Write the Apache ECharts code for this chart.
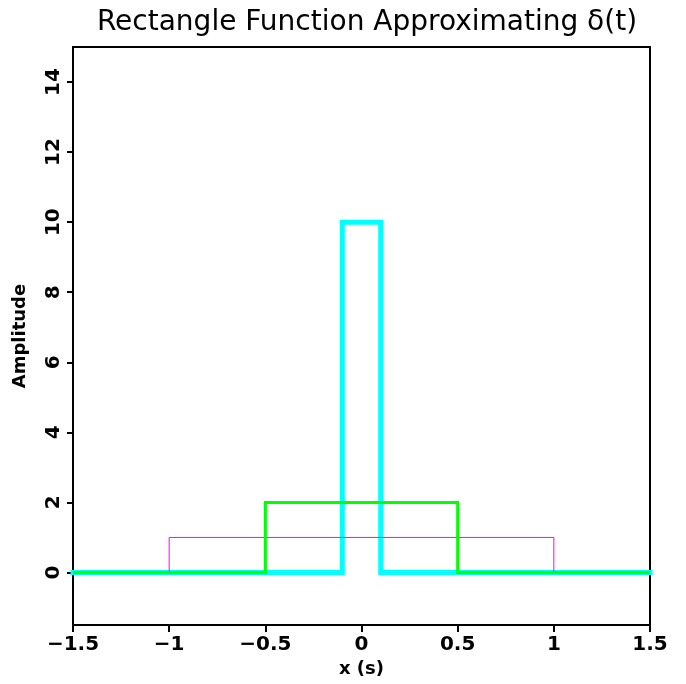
<!DOCTYPE html>
<html>
<head>
<meta charset="utf-8">
<script src="https://cdn.jsdelivr.net/npm/echarts@6/dist/echarts.min.js"></script>
<style>html,body{margin:0;padding:0;background:#fff}#c{width:686px;height:684px}</style>
</head>
<body>
<div id="c"></div>
<script>
// Rectangle approximations of delta(t): step outlines
const magentaX = [-1.5, -1, -1, 1, 1, 1.5];
const magentaY = [0, 0, 1, 1, 0, 0];
const greenX = [-1.5, -0.5, -0.5, 0.5, 0.5, 1.5];
const greenY = [0, 0, 2, 2, 0, 0];
const cyanX = [-1.5, -0.1, -0.1, 0.1, 0.1, 1.5];
const cyanY = [0, 0, 10, 10, 0, 0];
const xTicks = [-1.5, -1, -0.5, 0, 0.5, 1, 1.5];
const yTicks = [0, 2, 4, 6, 8, 10, 12, 14];

const pairs = (xs, ys) => xs.map((x, i) => [x, ys[i]]);
const font = 'DejaVu Sans';
const chart = echarts.init(document.getElementById('c'));
chart.setOption({
  animation: false,
  title: {
    text: 'Rectangle Function Approximating δ(t)',
    left: 362, textAlign: 'center', top: 4,
    textStyle: { fontFamily: font, fontSize: 28, fontWeight: 'normal', color: '#000' }
  },
  grid: { left: 73, right: 36, top: 47, bottom: 59, show: true, borderColor: '#000', borderWidth: 2, backgroundColor: 'transparent' },
  xAxis: {
    type: 'value', min: -1.5, max: 1.5,
    name: 'x (s)', nameLocation: 'middle', nameGap: 35,
    nameTextStyle: { fontFamily: font, fontSize: 18, fontWeight: 'bold', color: '#000' },
    axisLine: { show: true, onZero: false, lineStyle: { color: '#000', width: 2 } },
    axisTick: { show: true, length: 7, lineStyle: { color: '#000', width: 2 }, customValues: xTicks },
    axisLabel: { fontFamily: font, fontSize: 20, fontWeight: 'bold', color: '#000', margin: 10, customValues: xTicks,
      formatter: v => String(v).replace('-', '\u2212') },
    splitLine: { show: false }
  },
  yAxis: {
    type: 'value', min: -1.5, max: 15,
    name: 'Amplitude', nameLocation: 'middle', nameGap: 44,
    nameTextStyle: { fontFamily: font, fontSize: 18, fontWeight: 'bold', color: '#000' },
    axisLine: { show: true, onZero: false, lineStyle: { color: '#000', width: 2 } },
    axisTick: { show: true, length: 6, lineStyle: { color: '#000', width: 2 }, customValues: yTicks },
    axisLabel: { fontFamily: font, fontSize: 20, fontWeight: 'bold', color: '#000', margin: 9, rotate: 90, customValues: yTicks },
    splitLine: { show: false }
  },
  series: [
    { type: 'line', data: pairs(cyanX, cyanY), showSymbol: false, z: 1,
      lineStyle: { color: '#00ffff', width: 5, cap: 'square', join: 'miter' } },
    { type: 'line', data: pairs(magentaX, magentaY), showSymbol: false, z: 2,
      lineStyle: { color: '#ff00ff', width: 1, join: 'miter' } },
    { type: 'line', data: pairs(greenX, greenY), showSymbol: false, z: 3,
      lineStyle: { color: '#00ff00', width: 3, join: 'miter' } }
  ]
});
</script>
</body>
</html>
